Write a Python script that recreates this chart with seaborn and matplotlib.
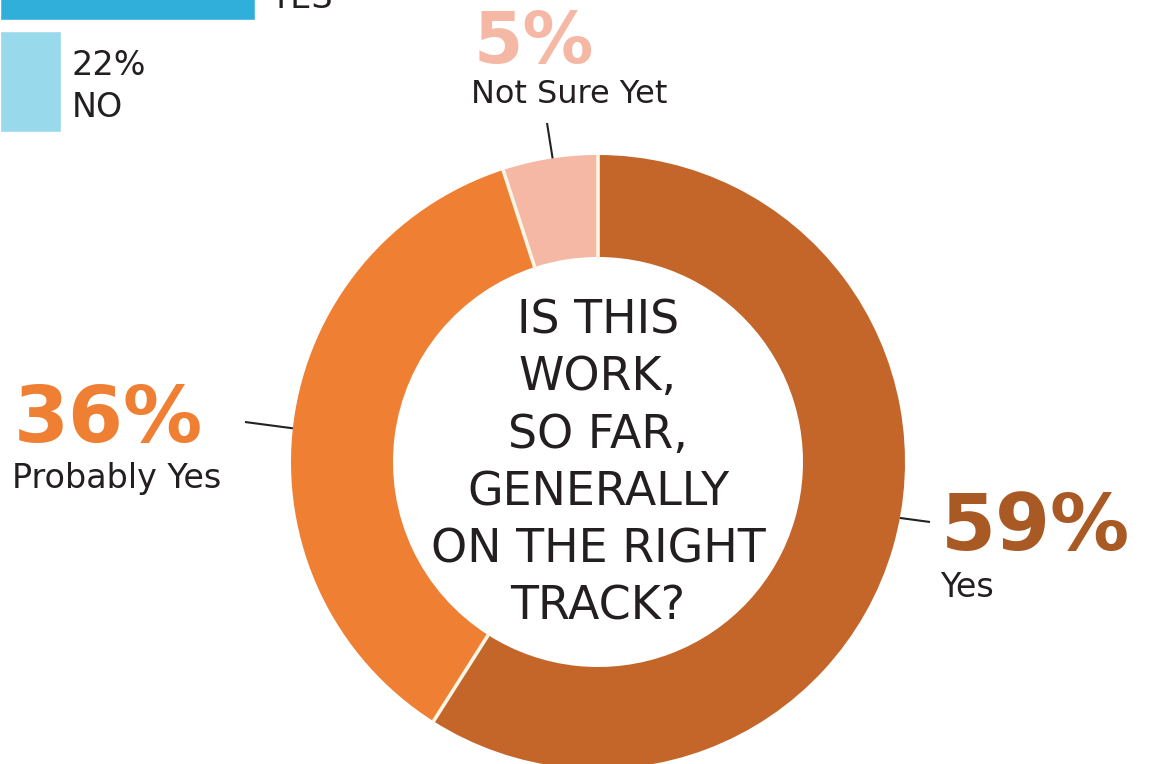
import numpy as np
import pandas as pd
import matplotlib
matplotlib.use("Agg")
import matplotlib.pyplot as plt
import seaborn as sns

##### DATA
categories = ["Yes", "Probably Yes", "Not Sure Yet"]
values = [59, 36, 5]
pct_labels = ["59%", "36%", "5%"]
ring_colors = ["#C4662A", "#EE7F33", "#F4B8A4"]
pct_colors = ["#A95A24", "#EE7F33", "#F4B8A4"]
center_lines = ["IS THIS", "WORK,", "SO FAR,", "GENERALLY", "ON THE RIGHT", "TRACK?"]

# partial bar chart cut off at top-left (bar extent as drawn)
other_cats = ["YES", "NO"]
other_bar_len = [92, 22]
other_colors = ["#31AFDB", "#99D9EC"]

W, H = 1157, 764

sns.set_theme(style="white")
plt.rcParams["font.family"] = ["DejaVu Sans"]

fig = plt.figure(figsize=(W / 100, H / 100), dpi=100)
ax = fig.add_axes([0, 0, 1, 1])

def py(y):
    # top-based pixel y to axes y
    return H - y

### DONUT
cx, cy, R, ring = 598, 462, 307, 102
wedges, _ = ax.pie(values, colors=ring_colors, startangle=90, counterclock=False,
                   center=(cx, py(cy)), radius=R,
                   wedgeprops=dict(width=ring, linewidth=0))
ax.set_xlim(0, W)
ax.set_ylim(0, H)
ax.set_aspect("equal")
ax.axis("off")

# thin cream separators between wedges
for w in wedges:
    t = np.deg2rad(w.theta1)
    ax.plot([cx + (R - ring - 2) * np.cos(t), cx + (R + 1) * np.cos(t)],
            [py(cy) + (R - ring - 2) * np.sin(t), py(cy) + (R + 1) * np.sin(t)],
            color="#FBF5E6", lw=2.6, solid_capstyle="butt")

# leader lines: start angle on the ring (clockwise from top) and outer end point
leader_angle = [100.5, 276.3, 351.5]
leader_end = [(930, 522), (245, 422), (547, 123)]
for a, (ex, ey) in zip(leader_angle, leader_end):
    t = np.deg2rad(90 - a)
    ax.plot([cx + R * np.cos(t), ex], [py(cy) + R * np.sin(t), py(ey)],
            color="#222222", lw=1.5, solid_capstyle="butt")

# percentage and category labels
pct_pos = [(941, 550), (14, 442), (474, 63)]
pct_size = [57, 57, 51]
cat_pos = [(940, 597), (12, 488), (471, 103)]
cat_size = [24, 24, 23]
for i in range(len(categories)):
    ax.text(pct_pos[i][0], py(pct_pos[i][1]), pct_labels[i], color=pct_colors[i],
            fontsize=pct_size[i], fontweight="bold", ha="left", va="baseline")
    ax.text(cat_pos[i][0], py(cat_pos[i][1]), categories[i], color="#231F20",
            fontsize=cat_size[i], ha="left", va="baseline")

# centre question
for i, line in enumerate(center_lines):
    ax.text(cx, py(333 + i * 57.4), line, color="#231F20", fontsize=33,
            ha="center", va="baseline")

### PARTIAL BAR CHART (top-left)
ax2 = fig.add_axes([0, (H - 137.5) / H, 277 / W, 224 / H])
barData = pd.DataFrame({"cat": other_cats, "len": other_bar_len})
sns.barplot(data=barData, y="cat", x="len", hue="cat", palette=other_colors,
            orient="h", width=0.9, ax=ax2, legend=False, saturation=1)
ax2.set_xlim(0, 100)
ax2.set_ylim(1.5, -0.5)
ax2.axis("off")

ax.text(270, py(8), "YES", color="#231F20", fontsize=24, ha="left", va="baseline")
ax.text(72, py(75), "22%", color="#231F20", fontsize=24, ha="left", va="baseline")
ax.text(72, py(117), "NO", color="#231F20", fontsize=24, ha="left", va="baseline")

plt.savefig("out.png", dpi=100)
